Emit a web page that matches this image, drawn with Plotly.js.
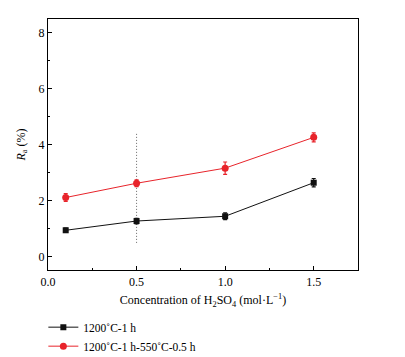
<!DOCTYPE html>
<html>
<head>
<meta charset="utf-8">
<script src="https://cdn.plot.ly/plotly-3.0.1.min.js"></script>
<style>html,body{margin:0;padding:0;background:#fff;}#chart{width:405px;height:357px;}</style>
</head>
<body>
<div id="chart"></div>
<script>
const concentration = [0.1, 0.5, 1.0, 1.5];
const raSeries1 = [0.95, 1.28, 1.45, 2.65];
const raErr1 = [0.08, 0.10, 0.12, 0.15];
const raSeries2 = [2.12, 2.63, 3.17, 4.27];
const raErr2 = [0.14, 0.12, 0.22, 0.16];
const seriesNames = ["1200˚C-1 h", "1200˚C-1 h-550˚C-0.5 h"];
const guideX = [0.5, 0.5];
const guideY = [0.5, 4.45];

const font = {family: "Liberation Serif, Times New Roman, serif", size: 12, color: "#000"};

const traces = [
  {x: guideX, y: guideY, mode: "lines", line: {color: "#666", width: 1, dash: "1px,2px"}, showlegend: false, hoverinfo: "skip"},
  {x: concentration, y: raSeries1, name: seriesNames[0], mode: "lines+markers",
   line: {color: "#111", width: 1}, marker: {symbol: "square", size: 6, color: "#111"},
   error_y: {type: "data", array: raErr1, visible: true, color: "#111", thickness: 1.2, width: 2}},
  {x: concentration, y: raSeries2, name: seriesNames[1], mode: "lines+markers",
   line: {color: "#e8242b", width: 1}, marker: {symbol: "circle", size: 7, color: "#e8242b"},
   error_y: {type: "data", array: raErr2, visible: true, color: "#e8242b", thickness: 1.2, width: 2}}
];

const layout = {
  width: 405, height: 357,
  margin: {l: 48, r: 47, t: 19, b: 87, autoexpand: false},
  paper_bgcolor: "#fff", plot_bgcolor: "#fff",
  font: font,
  showlegend: true,
  legend: {x: -0.015, y: -0.17, xanchor: "left", yanchor: "top", orientation: "v",
           font: {family: font.family, size: 11.5, color: "#000"}, tracegroupgap: 0, itemwidth: 30},
  xaxis: {
    range: [0, 1.75], tickvals: [0, 0.5, 1.0, 1.5], ticktext: ["0.0", "0.5", "1.0", "1.5"],
    ticks: "inside", ticklen: 4, tickcolor: "#000", showline: true, linecolor: "#000", linewidth: 1.2,
    mirror: true, showgrid: false, zeroline: false,
    minor: {tickvals: [0.25, 0.75, 1.25], ticks: "inside", ticklen: 2, tickcolor: "#000"},
    title: {text: "Concentration of H<sub>2</sub>SO<sub>4</sub> (mol·L<sup>−1</sup>)", font: {family: font.family, size: 12}, standoff: 8}
  },
  yaxis: {
    range: [-0.47, 8.5], tickvals: [0, 2, 4, 6, 8],
    ticks: "inside", ticklen: 4, tickcolor: "#000", showline: true, linecolor: "#000", linewidth: 1.2,
    mirror: true, showgrid: false, zeroline: false,
    minor: {tickvals: [1, 3, 5, 7], ticks: "inside", ticklen: 2, tickcolor: "#000"},
    title: {text: "<i>R</i><sub>a</sub> (%)", font: {family: font.family, size: 12}, standoff: 10}
  }
};

Plotly.newPlot("chart", traces, layout, {displayModeBar: false, staticPlot: true});
</script>
</body>
</html>
